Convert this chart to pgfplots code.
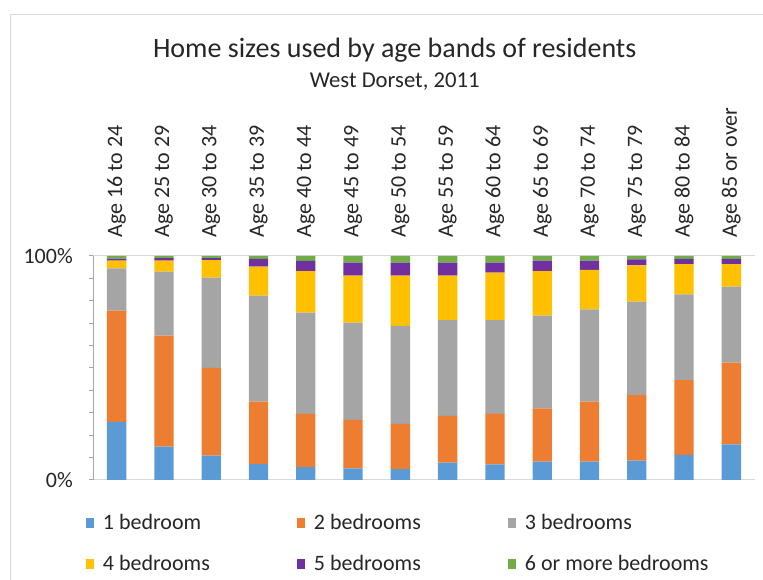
\documentclass[border=0pt]{standalone}
\usepackage{pgfplots}
\pgfplotsset{compat=1.18}
\usepackage{pgfplotstable}
\usepackage{fontspec}
\setmainfont{Carlito}
\definecolor{c1}{HTML}{5B9BD5}
\definecolor{c2}{HTML}{ED7D31}
\definecolor{c3}{HTML}{A5A5A5}
\definecolor{c4}{HTML}{FFC000}
\definecolor{c5}{HTML}{7030A0}
\definecolor{c6}{HTML}{70AD47}
\pgfplotstableread{
x  b1   b2   b3   b4   b5  b6
0  26.0 49.6 18.9 3.4  0.9 1.2
1  14.9 49.5 28.6 4.9  1.1 1.0
2  10.9 39.2 40.2 7.9  0.9 0.9
3  7.1  27.9 47.3 12.9 3.5 1.3
4  5.7  23.8 45.2 18.5 4.6 2.2
5  5.2  21.6 43.4 21.0 5.8 3.0
6  4.8  20.2 43.8 22.4 5.8 3.0
7  7.7  20.9 42.8 19.8 5.8 3.0
8  7.0  22.5 41.9 21.2 4.4 3.0
9  8.2  23.8 41.4 19.8 4.7 2.1
10 8.2  26.8 41.2 17.6 4.1 2.1
11 8.6  29.3 41.7 16.2 2.7 1.5
12 11.2 33.4 38.3 13.5 2.3 1.3
13 15.9 36.5 33.9 10.1 2.3 1.3
}\datatable
\newcommand\bodyfont{\fontsize{16.5}{20}\selectfont}
\begin{document}
\begin{tikzpicture}
\useasboundingbox (0,0) rectangle (572.25pt,435pt);
\draw[black!15, line width=0.75pt] (7.5pt,0) -- (7.5pt,423.75pt) -- (572.25pt,423.75pt);
\node[font=\fontsize{21}{25}\selectfont, text=black!85] at (296pt,397.5pt) {Home sizes used by age bands of residents};
\node[font=\fontsize{17}{20}\selectfont, text=black!85] at (296pt,374pt) {West Dorset, 2011};
\begin{axis}[
  at={(69.75pt,75pt)}, anchor=south west,
  width=496.5pt, height=168pt, scale only axis,
  ybar stacked, bar width=14.5pt,
  xmin=-0.5, xmax=13.5, ymin=0, ymax=100,
  axis x line*=box, axis y line*=left,
  x axis line style={draw=black!15, line width=0.75pt},
  y axis line style={draw=black!35, line width=0.75pt},
  xtick=data,
  xticklabels={Age 16 to 24,Age 25 to 29,Age 30 to 34,Age 35 to 39,Age 40 to 44,Age 45 to 49,Age 50 to 54,Age 55 to 59,Age 60 to 64,Age 65 to 69,Age 70 to 74,Age 75 to 79,Age 80 to 84,Age 85 or over},
  xticklabel pos=upper,
  x tick style={draw=none},
  xticklabel style={rotate=90, anchor=west, inner sep=0pt, font=\bodyfont, text=black!85},
  xticklabel shift=10.5pt,
  ytick={0,100}, yticklabels={0\%,100\%},
  minor ytick={10,20,30,40,50,60,70,80,90},
  tick align=outside, major tick length=3pt, minor tick length=3pt,
  y tick style={draw=black!35, line width=0.75pt},
  yticklabel style={font=\bodyfont, inner sep=0pt, text=black!85},
  yticklabel shift=12pt,
  legend columns=3,
  legend cell align=left,
  legend image code/.code={\fill[#1,draw=none] (0pt,-3.75pt) rectangle (6pt,3.75pt);},
  legend style={at={(axis description cs:-0.0106,-0.152)}, anchor=north west,
    draw=none, fill=none, inner sep=0pt, outer sep=0pt, font=\bodyfont,
    row sep=18pt, nodes={inner sep=0pt, text=black!85},
    /tikz/every odd column/.append style={column sep=6.75pt}},
]
\addplot[fill=c1, draw=none] table[x=x,y=b1]{\datatable};
\addlegendentry{\makebox[145.5pt][l]{1 bedroom}}
\addplot[fill=c2, draw=none] table[x=x,y=b2]{\datatable};
\addlegendentry{\makebox[145.5pt][l]{2 bedrooms}}
\addplot[fill=c3, draw=none] table[x=x,y=b3]{\datatable};
\addlegendentry{3 bedrooms}
\addplot[fill=c4, draw=none] table[x=x,y=b4]{\datatable};
\addlegendentry{4 bedrooms}
\addplot[fill=c5, draw=none] table[x=x,y=b5]{\datatable};
\addlegendentry{5 bedrooms}
\addplot[fill=c6, draw=none] table[x=x,y=b6]{\datatable};
\addlegendentry{6 or more bedrooms}
\end{axis}
\end{tikzpicture}
\end{document}
